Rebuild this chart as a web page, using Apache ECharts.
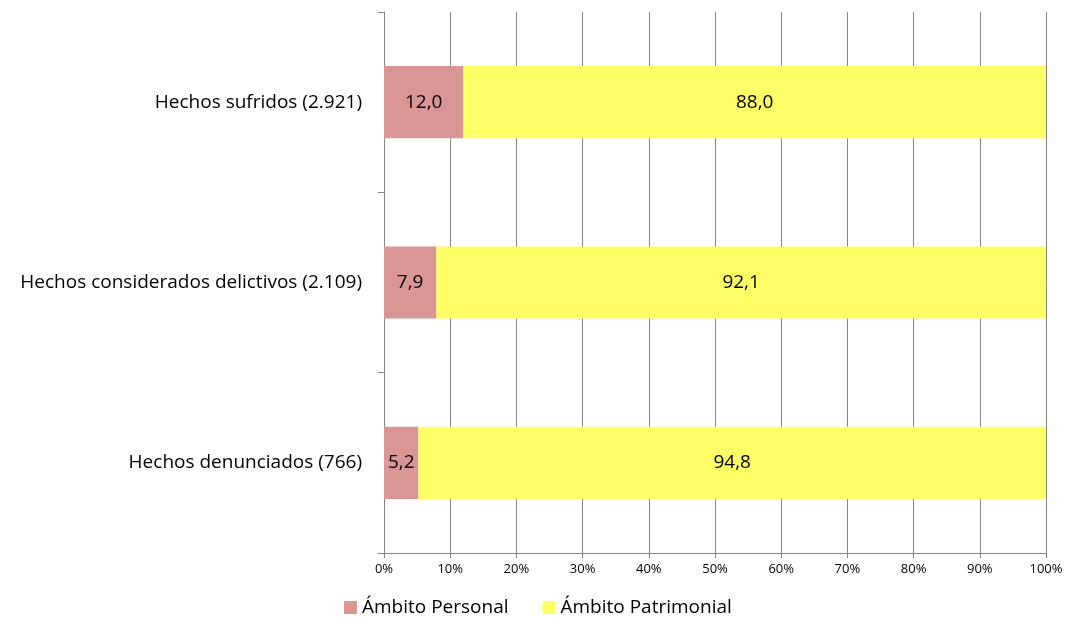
<!DOCTYPE html>
<html><head><meta charset="utf-8">
<script src="https://cdn.jsdelivr.net/npm/echarts@6/dist/echarts.min.js"></script>
<style>html,body{margin:0;padding:0;background:#fff}#c{width:1070px;height:622px}</style>
</head><body><div id="c"></div>
<script>
const categories = ['Hechos sufridos (2.921)', 'Hechos considerados delictivos (2.109)', 'Hechos denunciados (766)'];
const personal = [12.0, 7.9, 5.2];
const patrimonial = [88.0, 92.1, 94.8];
const seriesNames = ['Ámbito Personal', 'Ámbito Patrimonial'];
const FONT = 'Open Sans';
const fmt = p => p.value.toFixed(1).replace('.', ',');
const chart = echarts.init(document.getElementById('c'));
chart.setOption({
  animation: false,
  textStyle: {fontFamily: FONT},
  grid: {left: 384, right: 24, top: 12, bottom: 69, containLabel: false},
  legend: {
    bottom: 0, left: 339, itemWidth: 13, itemHeight: 13, itemGap: 34,
    icon: 'rect',
    textStyle: {fontFamily: FONT, fontSize: 19, color: '#000'},
    data: seriesNames
  },
  xAxis: {
    type: 'value', min: 0, max: 100, interval: 10,
    axisLabel: {formatter: v => v + '%', fontSize: 13, color: '#000', fontFamily: FONT, margin: 10},
    axisLine: {show: true, lineStyle: {color: '#868686'}},
    axisTick: {show: true, length: 5, lineStyle: {color: '#868686'}},
    splitLine: {show: true, lineStyle: {color: '#868686', width: 1}}
  },
  yAxis: {
    type: 'category', data: categories, inverse: true,
    axisLabel: {fontSize: 19, color: '#000', fontFamily: FONT, margin: 22},
    axisLine: {show: true, lineStyle: {color: '#868686'}},
    axisTick: {show: true, length: 6, lineStyle: {color: '#868686'}}
  },
  series: [
    {name: seriesNames[0], type: 'bar', stack: 's', data: personal, barWidth: '40%',
     itemStyle: {color: '#D99694'},
     label: {show: true, position: 'inside', formatter: fmt, color: '#000', fontSize: 19, fontFamily: FONT}},
    {name: seriesNames[1], type: 'bar', stack: 's', data: patrimonial, barWidth: '40%',
     itemStyle: {color: '#FFFF66'},
     label: {show: true, position: 'inside', formatter: fmt, color: '#000', fontSize: 19, fontFamily: FONT}}
  ]
});
</script></body></html>
